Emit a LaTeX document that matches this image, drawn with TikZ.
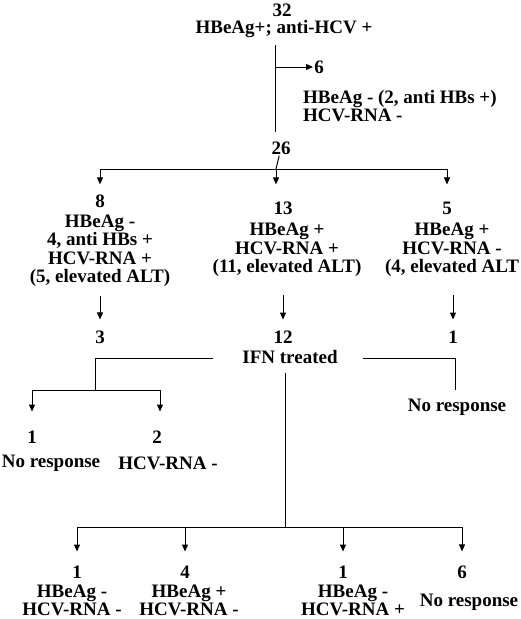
\documentclass[tikz,border=0pt]{standalone}
\usepackage{fontspec}
\setmainfont{Liberation Serif}
\usetikzlibrary{positioning, arrows.meta, calc}

\begin{document}
\begin{tikzpicture}[x=1pt, y=-1pt, font=\bfseries\fontsize{19}{18.5}\selectfont,
    lbl/.style={inner sep=1pt, align=center},
    ln/.style={line width=1pt},
    arr/.style={line width=1pt, -{Triangle[length=7pt, width=6pt]}}]
  \useasboundingbox (0,0) rectangle (520,619);
  % start
  \node[lbl] (n32) at (282,10) {32};
  \node[lbl] (top) at (284,29) {HBeAg+; anti-HCV +};
  \node[lbl] (n6) at (319,67) {6};
  \node[lbl, anchor=west, align=left] (out6) at (302,106) {HBeAg - (2, anti HBs +)\\HCV-RNA -};
  \node[lbl] (n26) at (281,148) {26};
  \coordinate (c6) at (275,67);
  \draw[ln] ([yshift=-6pt]top.south -| c6) -- ([yshift=8pt]n26.north -| c6);
  \draw[arr] (c6) -- (n6.west);
  % three groups
  \node[lbl] (n8) at (100,201.5) {8};
  \node[lbl] (g8) at (100,250.5) {HBeAg -\\4, anti HBs +\\HCV-RNA +\\(5, elevated ALT)};
  \node[lbl] (n13) at (283,208) {13};
  \node[lbl] (g13) at (287,250) {HBeAg +\\HCV-RNA +\\(11, elevated ALT)};
  \node[lbl] (n5) at (447,208) {5};
  \node[lbl] (g5) at (452,250) {HBeAg +\\HCV-RNA -\\(4, elevated ALT};
  \coordinate (j1L) at (100,169);
  \coordinate (j1M) at (276,169);
  \coordinate (j1R) at (447,169);
  \draw[ln] (j1L) -- (j1R);
  \draw[ln] (n26) -- (j1M);
  \draw[arr] (j1L) -- ([yshift=9.5pt]n8.north);
  \draw[arr] (j1M) -- ([yshift=16pt]n13.north -| j1M);
  \draw[arr] (j1R) -- ([yshift=16pt]n5.north);
  % follow up
  \node[lbl] (n3) at (100,337) {3};
  \node[lbl] (n12) at (283,337) {12};
  \node[lbl] (n1r) at (453,337) {1};
  \node[lbl] (ifn) at (290,357) {IFN treated};
  \draw[arr] ([yshift=-8.5pt]g8.south) -- ([yshift=10pt]n3.north);
  \draw[arr] ([yshift=-17pt]g13.south -| n12) -- ([yshift=10pt]n12.north);
  \draw[arr] ([yshift=-17pt]g5.south -| n1r) -- ([yshift=10pt]n1r.north);
  % IFN branches
  \coordinate (k1) at (95,358);
  \coordinate (k2) at (95,390);
  \coordinate (k3) at (32,390);
  \coordinate (k4) at (160,390);
  \coordinate (k5) at (455,358);
  \coordinate (k6) at (455,390);
  \coordinate (k7) at (285,527);
  \draw[ln] ([xshift=-28pt]ifn.west |- k1) -- (k1) -- (k2);
  \draw[ln] (k3) -- (k4);
  \draw[ln] ([xshift=24pt]ifn.east |- k5) -- (k5) -- (k6);
  \draw[ln] ([yshift=-8pt]ifn.south -| k7) -- (k7);
  \node[lbl] (m1) at (32,437) {1};
  \node[lbl] (m1t) at (51,463) {No response};
  \node[lbl] (m2) at (157,437) {2};
  \node[lbl] (m2t) at (168,463) {HCV-RNA -};
  \node[lbl] (nrR) at (457,407) {No response};
  \draw[arr] (k3) -- ([yshift=18pt]m1.north -| k3);
  \draw[arr] (k4) -- ([yshift=18pt]m2.north -| k4);
  % IFN results
  \node[lbl] (r1) at (77,572) {1};
  \node[lbl] (r1t) at (72,600.5) {HBeAg -\\HCV-RNA -};
  \node[lbl] (r2) at (185,572) {4};
  \node[lbl] (r2t) at (189,600.5) {HBeAg +\\HCV-RNA -};
  \node[lbl] (r3) at (343,572) {1};
  \node[lbl] (r3t) at (353,600.5) {HBeAg -\\HCV-RNA +};
  \node[lbl] (r4) at (462,572) {6};
  \node[lbl] (r4t) at (469,602) {No response};
  \coordinate (b1) at (77,527);
  \coordinate (b2) at (185,527);
  \coordinate (b3) at (343,527);
  \coordinate (b4) at (462,527);
  \draw[ln] (b1) -- (b4);
  \draw[arr] (b1) -- ([yshift=13pt]r1.north);
  \draw[arr] (b2) -- ([yshift=13pt]r2.north);
  \draw[arr] (b3) -- ([yshift=13pt]r3.north);
  \draw[arr] (b4) -- ([yshift=13pt]r4.north);
\end{tikzpicture}
\end{document}
